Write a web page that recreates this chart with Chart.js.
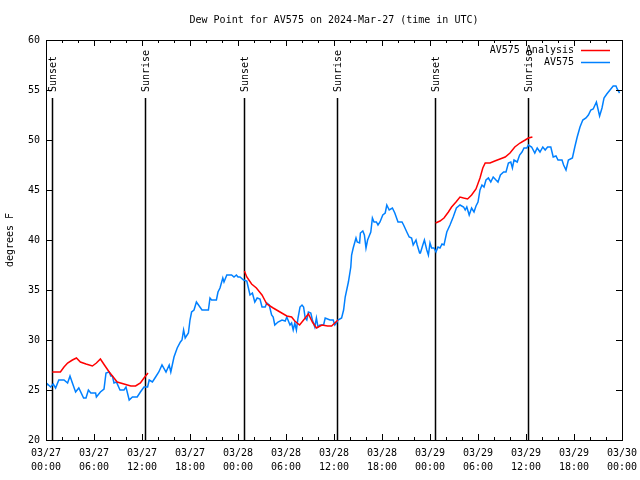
<!DOCTYPE html>
<html>
<head>
<meta charset="utf-8">
<script src="https://cdn.jsdelivr.net/npm/chart.js@4"></script>
<style>
  html, body { margin: 0; padding: 0; background: #fff; }
  #wrap { width: 640px; height: 480px; }
</style>
</head>
<body>
<div id="wrap"><canvas id="dew" width="640" height="480"></canvas></div>
<script>
// hours since 03/27 00:00 UTC
var obsHours = [0, 0.17, 0.58, 0.9, 1.2, 1.6, 2.25, 2.7, 3, 3.3, 3.7, 4.1, 4.7, 5, 5.3, 5.6, 6.2, 6.3, 6.8, 7.25,
  7.5, 7.9, 8.1, 8.3, 8.5, 8.8, 9.25, 9.75, 10, 10.4, 10.8, 11.4, 11.8, 12.25, 12.7, 12.9, 13.3, 13.7, 14.1, 14.5,
  15, 15.4, 15.6, 16, 16.4, 16.8, 17, 17.2, 17.4, 17.8, 18, 18.2, 18.5, 18.8, 19.5, 20.3, 20.5, 20.7, 21.3, 21.5,
  21.75, 22.1, 22.25, 22.6, 23.2, 23.5, 23.8, 24, 24.25, 24.7, 25.1, 25.3, 25.5, 25.8, 26.1, 26.4, 26.75, 27, 27.4, 27.6,
  27.9, 28.2, 28.4, 28.6, 29, 29.5, 29.9, 30.1, 30.5, 30.7, 30.9, 31.1, 31.3, 31.5, 31.75, 32, 32.2, 32.4, 32.6, 32.8,
  33.1, 33.3, 33.6, 33.8, 34, 34.25, 34.7, 34.9, 35.5, 35.9, 36.1, 36.3, 36.5, 36.95, 37.2, 37.4, 37.8, 38.1, 38.2, 38.4,
  38.75, 38.9, 39.2, 39.3, 39.6, 39.8, 40, 40.2, 40.4, 40.6, 40.8, 41, 41.3, 41.5, 41.75, 42.1, 42.4, 42.6, 42.9, 43.3,
  43.6, 44, 44.5, 44.7, 45.1, 45.4, 45.7, 45.9, 46.25, 46.4, 46.7, 46.8, 47.1, 47.3, 47.6, 47.8, 48, 48.2, 48.5, 48.75,
  49, 49.25, 49.5, 49.75, 50.1, 50.5, 50.9, 51.3, 51.75, 52.2, 52.4, 52.6, 52.9, 53.2, 53.5, 53.75, 54, 54.25, 54.5, 54.75,
  55, 55.3, 55.6, 55.9, 56.25, 56.5, 56.8, 57.2, 57.5, 57.8, 58.1, 58.3, 58.5, 58.9, 59.2, 59.5, 59.75, 60.1, 60.3, 60.7,
  61.1, 61.4, 61.75, 62.1, 62.4, 62.7, 63.1, 63.4, 63.75, 64, 64.5, 64.7, 65, 65.3, 65.8, 66.1, 66.4, 66.75, 67.1, 67.5,
  67.8, 68.1, 68.4, 68.8, 69.2, 69.5, 69.75, 70.1, 70.5, 70.9, 71.25, 71.4, 71.7];
var obsDew = [25.4, 25.6, 25.3, 25.6, 25.2, 26.0, 26.0, 25.7, 26.4, 25.7, 24.8, 25.2, 24.2, 24.2, 25.0, 24.7, 24.7, 24.3, 24.8, 25.1,
  26.7, 26.8, 26.4, 26.4, 25.7, 25.8, 25.0, 25.0, 25.3, 24.0, 24.3, 24.3, 24.8, 25.3, 25.3, 26.0, 25.8, 26.3, 26.8, 27.5,
  26.8, 27.5, 26.8, 28.3, 29.2, 29.8, 30.0, 31.0, 30.2, 30.7, 32.0, 32.8, 33.0, 33.8, 33.0, 33.0, 34.2, 34.0, 34.0, 34.8,
  35.2, 36.2, 35.8, 36.5, 36.5, 36.3, 36.5, 36.3, 36.3, 36.0, 35.9, 35.2, 34.5, 34.7, 33.8, 34.2, 34.1, 33.3, 33.3, 33.7,
  33.5, 32.5, 32.3, 31.5, 31.8, 32.0, 31.9, 32.3, 31.5, 31.7, 31.0, 31.7, 31.0, 32.2, 33.3, 33.5, 33.3, 32.2, 32.0, 32.8,
  32.7, 32.0, 31.3, 32.2, 31.3, 31.5, 31.5, 32.2, 32.0, 32.0, 31.5, 31.7, 32.0, 32.2, 33.0, 34.3, 35.8, 37.3, 38.5, 39.2,
  40.2, 39.8, 39.7, 40.7, 40.9, 40.5, 39.2, 40.0, 40.4, 40.8, 42.2, 41.8, 41.8, 41.5, 41.8, 42.5, 42.7, 43.5, 43.0, 43.2,
  42.7, 41.8, 41.8, 41.5, 40.8, 40.3, 40.2, 39.5, 40.0, 39.5, 38.7, 38.7, 39.5, 40.0, 39.0, 38.5, 39.7, 39.2, 39.2, 38.8,
  39.3, 39.2, 39.6, 39.5, 40.8, 41.5, 42.3, 43.2, 43.5, 43.3, 43.0, 43.3, 42.5, 43.2, 42.8, 43.4, 43.8, 45.0, 45.5, 45.3,
  46.0, 46.2, 45.8, 46.3, 46.0, 45.8, 46.5, 46.8, 46.8, 47.7, 47.8, 47.2, 48.0, 47.8, 48.5, 48.8, 49.2, 49.2, 49.5, 49.3,
  48.7, 49.2, 48.8, 49.3, 49.0, 49.3, 49.3, 48.3, 48.4, 48.0, 48.0, 47.5, 47.0, 48.0, 48.2, 49.3, 50.3, 51.3, 52.0, 52.2,
  52.5, 53.0, 53.1, 53.8, 52.4, 53.2, 54.2, 54.6, 55.0, 55.4, 55.4, 55.1, 54.7];

// analysis runs from sunset to sunrise; null breaks the line between nights
var anaHours = [0.79, 1.8, 2.25, 2.7, 3.3, 3.8, 4.3, 5, 5.8, 6.3, 6.8, 7.3, 7.9, 8.5, 8.9, 9.75, 10.6, 11.2, 11.8, 12.25, 12.75,
  18,
  24.8, 25.1, 25.7, 26.3, 27, 27.6, 28.4, 29.25, 30.1, 30.7, 31.1, 31.7, 32.2, 32.8, 33.3, 33.8, 34.5, 35.2, 35.7, 36.1, 36.5,
  42,
  48.7, 49.25, 49.75, 50.3, 50.7, 51.25, 51.75, 52.2, 52.7, 53.2, 53.75, 54.25, 54.6, 54.9, 55.5, 56.1, 56.75, 57.4, 58, 58.6,
  59.25, 59.9, 60.3, 60.8];
var anaDew = [26.8, 26.8, 27.3, 27.7, 28.0, 28.2, 27.8, 27.6, 27.4, 27.7, 28.1, 27.5, 26.8, 26.2, 25.8, 25.6, 25.4, 25.4, 25.7, 26.2, 26.7,
  null,
  36.9, 36.3, 35.6, 35.2, 34.5, 33.6, 33.2, 32.8, 32.4, 32.3, 31.9, 31.5, 32.0, 32.6, 31.8, 31.2, 31.5, 31.4, 31.4, 31.7, 32.0,
  null,
  41.7, 41.9, 42.2, 42.8, 43.3, 43.8, 44.3, 44.2, 44.1, 44.5, 45.1, 46.2, 47.2, 47.7, 47.7, 47.9, 48.1, 48.3, 48.7, 49.3,
  49.7, 50.0, 50.2, 50.3];

var sunHours = [0.79, 12.41, 24.79, 36.41, 48.67, 60.29];
var sunNames = ['Sunset', 'Sunrise', 'Sunset', 'Sunrise', 'Sunset', 'Sunrise'];

var tickDays = ['03/27', '03/27', '03/27', '03/27', '03/28', '03/28', '03/28', '03/28', '03/29', '03/29', '03/29', '03/29', '03/30'];
var tickTimes = ['00:00', '06:00', '12:00', '18:00'];

var FONT = 'DejaVu Sans Mono';

function pts(hs, vs) {
    return hs.map(function(h, i) { return { x: h, y: vs[i] }; });
}

var extras = {
    id: 'extras',
    beforeDatasetsDraw: function(chart) {
        var ctx = chart.ctx, a = chart.chartArea, xs = chart.scales.x;
        ctx.save();
        ctx.strokeStyle = '#000';
        ctx.lineWidth = 1.5;
        ctx.font = '10px "' + FONT + '"';
        ctx.fillStyle = '#000';
        for (var i = 0; i < sunHours.length; i++) {
            var px = Math.round(xs.getPixelForValue(sunHours[i])) + 0.5;
            ctx.beginPath();
            ctx.moveTo(px, 98);
            ctx.lineTo(px, a.bottom);
            ctx.stroke();
            ctx.save();
            ctx.translate(px + 1, 92);
            ctx.rotate(-Math.PI / 2);
            ctx.textAlign = 'left';
            ctx.textBaseline = 'middle';
            ctx.fillText(sunNames[i], 0, 0);
            ctx.restore();
        }
        ctx.restore();
    },
    afterDraw: function(chart) {
        var ctx = chart.ctx, a = chart.chartArea, xs = chart.scales.x, ys = chart.scales.y;
        ctx.save();
        ctx.strokeStyle = '#000';
        ctx.lineWidth = 1;
        ctx.strokeRect(a.left + 0.5, a.top + 0.5, a.right - a.left, a.bottom - a.top);
        ctx.beginPath();
        for (var h = 0; h <= 72; h += 2) {
            var x = Math.round(xs.getPixelForValue(h)) + 0.5;
            var len = (h % 6 === 0) ? 6 : 3;
            ctx.moveTo(x, a.bottom); ctx.lineTo(x, a.bottom - len);
            ctx.moveTo(x, a.top); ctx.lineTo(x, a.top + len);
        }
        for (var v = 20; v <= 60; v += 5) {
            var y = Math.round(ys.getPixelForValue(v)) + 0.5;
            ctx.moveTo(a.left, y); ctx.lineTo(a.left + 6, y);
            ctx.moveTo(a.right, y); ctx.lineTo(a.right - 6, y);
        }
        ctx.stroke();

        // title
        ctx.fillStyle = '#000';
        ctx.font = '10px "' + FONT + '"';
        ctx.textAlign = 'center';
        ctx.textBaseline = 'middle';
        ctx.fillText('Dew Point for AV575 on 2024-Mar-27 (time in UTC)', (a.left + a.right) / 2, 20);

        // legend, gnuplot style: text then line sample
        ctx.textAlign = 'right';
        chart.data.datasets.forEach(function(ds, i) {
            var ly = a.top + 10.5 + 12 * i;
            ctx.fillStyle = '#000';
            ctx.fillText(ds.label, a.right - 48, ly);
            ctx.strokeStyle = ds.borderColor;
            ctx.lineWidth = 1.5;
            ctx.beginPath();
            ctx.moveTo(a.right - 41, ly);
            ctx.lineTo(a.right - 12, ly);
            ctx.stroke();
        });
        ctx.restore();
    }
};

new Chart(document.getElementById('dew').getContext('2d'), {
    type: 'line',
    data: {
        datasets: [{
            label: 'AV575 Analysis',
            data: pts(anaHours, anaDew),
            borderColor: '#ff0000',
            borderWidth: 1.5,
            pointRadius: 0,
            tension: 0,
            spanGaps: false
        }, {
            label: 'AV575',
            data: pts(obsHours, obsDew),
            borderColor: '#0080ff',
            borderWidth: 1.5,
            pointRadius: 0,
            tension: 0
        }]
    },
    options: {
        responsive: false,
        animation: false,
        events: [],
        layout: { padding: { left: 0, right: 18, top: 40, bottom: 0 } },
        plugins: {
            legend: { display: false },
            title: { display: false },
            tooltip: { enabled: false }
        },
        scales: {
            x: {
                type: 'linear',
                min: 0,
                max: 72,
                grid: { display: false, drawTicks: false },
                border: { display: false },
                ticks: {
                    stepSize: 6,
                    autoSkip: false,
                    maxRotation: 0,
                    padding: 6,
                    color: '#000',
                    font: { family: FONT, size: 10, lineHeight: 1.4 },
                    callback: function(v) {
                        var k = Math.round(v / 6);
                        return [tickDays[k], tickTimes[k % 4]];
                    }
                },
                afterFit: function(s) { s.height = 40; s.paddingLeft = 0; s.paddingRight = 0; }
            },
            y: {
                min: 20,
                max: 60,
                grid: { display: false, drawTicks: false },
                border: { display: false },
                ticks: {
                    stepSize: 5,
                    padding: 6,
                    color: '#000',
                    font: { family: FONT, size: 10 }
                },
                title: {
                    display: true,
                    text: 'degrees F',
                    color: '#000',
                    font: { family: FONT, size: 10 },
                    padding: { top: 4, bottom: 0 }
                },
                afterFit: function(s) { s.width = 46; s.paddingTop = 0; s.paddingBottom = 0; }
            }
        }
    },
    plugins: [extras]
});
</script>
</body>
</html>
